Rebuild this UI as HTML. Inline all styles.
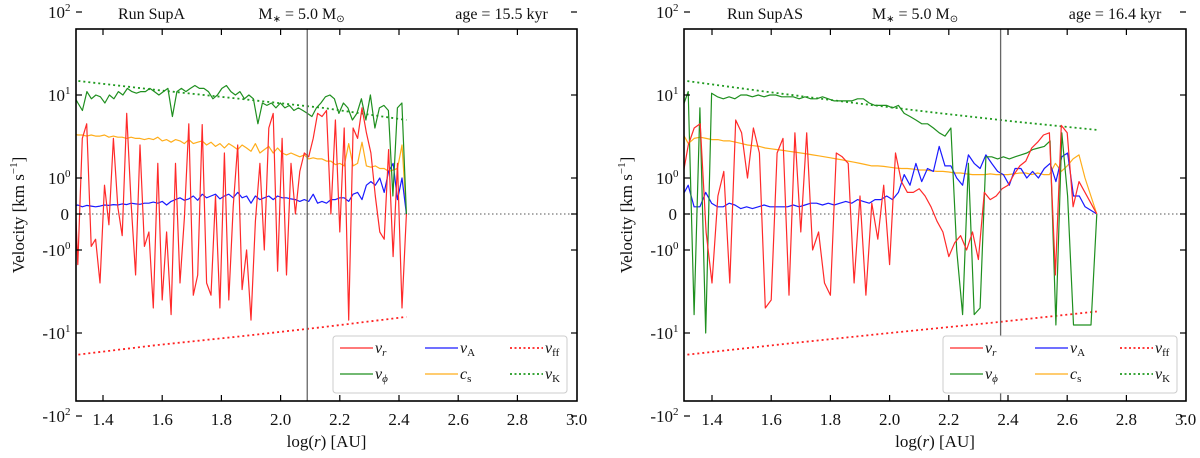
<!DOCTYPE html>
<html><head><meta charset="utf-8"><style>
html,body{margin:0;padding:0;background:#fff;}
svg{display:block;font-family:"Liberation Serif",serif;}
</style></head><body>
<svg id="fig" width="1200" height="458" viewBox="0 0 1200 458" xmlns="http://www.w3.org/2000/svg"></svg>
<script>
// ---------- data ----------
const xTicks = [1.4,1.6,1.8,2.0,2.2,2.4,2.6,2.8,3.0];
const xTickLabels = ["1.4","1.6","1.8","2.0","2.2","2.4","2.6","2.8","3.0"];
const yTickVals = [100,10,1,0,-1,-10,-100];
const yTickLabels = [["10","2"],["10","1"],["10","0"],["0",""],["-10","0"],["-10","1"],["-10","2"]];
const panelTitles = [["Run SupA","5.0","age = 15.5 kyr"],["Run SupAS","5.0","age = 16.4 kyr"]];
const rVline = [2.09, 2.375];
const xRangeA = [1.30, 2.425];
const xRangeB = [1.30, 2.70];

const vrA = [2,-1.5,3,4.5,-0.9,-0.7,-2.5,0.8,-0.3,3,0.2,-0.6,6,0.3,-2,2.5,-0.9,-0.5,-5,1.5,-4,-0.5,-6,1.5,-2.5,-0.1,4.5,-3.5,-2,4.4,-2.5,-3.5,0.5,-5,2,-4,0.2,2.5,-3,-1,-7,-0.2,1.5,-1,4,6,-1.8,3,-2,1.5,0,1.2,2,1.8,3,6,5.5,6.5,0,5,-0.5,4,-7,4,3,7,3.5,2,0.5,-0.5,-0.7,2.2,-1.2,1.5,-5,0];
const vphiA = [10,8,6.5,11,9,10,9.5,8,10,9,11,10,12,11,10.5,11,11,12,11,10,11,12,5.5,11,12,11,12,13,12,12,11,9,10,12,13,11,10,11,9,10,9,4.5,8,7.5,8,7,8,7,7.5,6.5,7,6.5,6,5.5,7,8,9.5,10,9,6,8,7,5,6,9,5,10,4,7,7.5,6.5,0.5,7,8,0];
const vAA = [0.22,0.25,0.2,0.24,0.22,0.2,0.22,0.25,0.24,0.26,0.25,0.28,0.26,0.3,0.28,0.27,0.3,0.3,0.33,0.3,0.35,0.25,0.35,0.4,0.45,0.38,0.42,0.5,0.38,0.55,0.45,0.5,0.55,0.42,0.5,0.55,0.45,0.6,0.45,0.5,0.3,0.5,0.4,0.45,0.5,0.4,0.5,0.45,0.45,0.42,0.4,0.35,0.4,0.35,0.55,0.3,0.35,0.3,0.4,0.4,0.45,0.45,0.35,0.55,0.6,0.4,0.8,0.9,0.8,1.0,0.6,1.2,1.5,0.4,1.0,0];
const csA = [3.4,3.3,3.3,3.2,3.3,3.2,3.2,3.3,3.1,3.2,3.1,3.1,3.0,3.1,3.0,3.0,2.9,3.0,2.9,3.1,2.8,2.9,2.7,2.9,2.8,2.6,2.9,2.6,2.7,2.8,2.5,2.7,2.4,2.6,2.3,2.6,2.4,2.2,2.5,2.3,2.1,2.6,2.0,2.2,2.4,2.0,2.3,2.0,1.9,2.0,1.9,1.8,1.9,1.7,1.75,1.7,1.7,1.6,1.6,1.45,1.5,1.4,2.6,1.4,1.5,2.7,1.4,1.35,1.4,1.3,1.3,1.2,1.25,1.3,2.5,0];
const vKA = [15,11.5,9,7,5];
const vffA = [-18.5,-14,-11,-8.5,-6.4];

const vrB = [1,2.5,4,4.5,-0.5,-2.5,0.5,1.2,-2.5,5,3.5,1.0,4,2,-5,-4,2,3,-3.5,3.5,-0.5,3.5,-1,-0.5,-2.5,-3.5,2,1.8,1.5,-2.5,0.5,-3.5,0.3,-0.7,0.8,-1.5,2,0.9,0.6,0.6,0.7,0.5,0.2,-0.2,-0.5,-1.2,-0.8,-0.6,-1.0,-0.5,-1.3,0.6,0.4,0.5,0.7,0.8,1.1,1.4,1.6,2.3,2.7,3.3,3.5,-2,4.3,3.5,0.2,0.9,0.6,0.3,0];
const vphiB = [7,11,-6,7,-10,10.5,9.5,9,9.5,9,10,10,9.5,10,9.5,10,10,9.5,9.5,9.5,9,9.5,9,9,9.5,9,8.5,8.5,8.5,8.5,9,9,8,7.5,7.5,7.5,7,7.5,6,5.5,5,4.5,4.5,4,3.5,3.2,4,-1,-6,1.5,-6,-5,1.8,1.8,1.7,1.8,1.7,1.8,1.9,2.0,2.2,2.3,2.4,2.8,-8,3.5,0.5,-8,-8,-8,-8,0];
const vAB = [0.5,0.8,0.2,0.2,0.6,0.3,0.2,0.2,0.3,0.25,0.15,0.2,0.15,0.2,0.25,0.2,0.2,0.2,0.2,0.25,0.2,0.25,0.3,0.3,0.25,0.3,0.25,0.3,0.35,0.3,0.4,0.35,0.3,0.4,0.4,0.5,0.4,0.6,1.1,0.8,1.5,0.9,1.3,1.2,2.4,1.4,1.4,1.0,0.8,1.9,1.5,1.3,1.9,1.5,1.2,1.1,0.8,1.3,1.3,1.0,1.2,1.0,1.3,1.5,0.9,1.8,2.0,0.5,0.5,0.2,0.1,0];
const csB = [3.5,2.6,3.0,3.1,3.0,2.9,2.9,2.8,2.8,2.7,2.6,2.5,2.45,2.4,2.3,2.25,2.2,2.15,2.1,2.05,2.0,1.95,1.9,1.85,1.8,1.75,1.7,1.65,1.6,1.55,1.5,1.45,1.4,1.4,1.38,1.35,1.32,1.3,1.3,1.28,1.25,1.25,1.22,1.2,1.2,1.18,1.15,1.15,1.12,1.1,1.1,1.1,1.12,1.1,1.1,1.1,1.12,1.15,1.15,1.1,1.15,1.1,1.1,1.5,1.2,1.4,1.7,1.9,1.0,0.5,0];
const vKB = [15,11,8.2,6.2,4.8,3.8];
const vffB = [-18.5,-13.5,-10,-7.5,-5.5];

// ---------- drawing ----------
const svg = document.getElementById('fig');
const NS = 'http://www.w3.org/2000/svg';
function mk(tag, attrs, parent){ const e=document.createElementNS(NS,tag); for(const k in attrs) e.setAttribute(k,attrs[k]); (parent||svg).appendChild(e); return e; }

const TOP=29, BOT=401, Y0=214;
function yPix(v){
  const a=Math.abs(v), s=Math.sign(v);
  if(a<=1) return Y0 - s*a*36;
  return Y0 - s*(36 + 83*Math.log10(a));
}

const panels = [
  {x0:76, x1:577, tick14:103, ranges:xRangeA, vr:vrA, vphi:vphiA, vA:vAA, cs:csA, vK:vKA, vff:vffA, vline:rVline[0], name:'panel-supa'},
  {x0:684, x1:1186, tick14:712, ranges:xRangeB, vr:vrB, vphi:vphiB, vA:vAB, cs:csB, vK:vKB, vff:vffB, vline:rVline[1], name:'panel-supas'}
];

panels.forEach((p,pi)=>{
  const g = mk('g',{});
  
  
  const xPix = v => p.tick14 + (v-1.4)*296;
  const t = panelTitles[pi];
  const tg = mk('text',{x:(p.x0+p.x1)/2-175+(pi?5:0), y:19,'font-size':16,'text-anchor':'middle',fill:'#111'},g);
  tg.textContent=t[0];
  
  
  const tm = mk('text',{x:(p.x0+p.x1)/2-25+(pi?5:0), y:19,'font-size':16,'text-anchor':'middle',fill:'#111'},g);
  tm.innerHTML='M<tspan font-size="10" dy="3">∗</tspan><tspan dy="-3"> = '+t[1]+' M</tspan><tspan font-size="10" dy="3">⊙</tspan>';
  
  
  const ta = mk('text',{x:(p.x0+p.x1)/2+175+(pi?5:0), y:19,'font-size':16,'text-anchor':'middle',fill:'#111'},g);
  ta.textContent=t[2];
  
  

  const cp = mk('clipPath',{id:'clip'+pi},g);
  mk('rect',{x:p.x0,y:TOP,width:p.x1-p.x0,height:BOT-TOP},cp);
  const plot = mk('g',{'clip-path':'url(#clip'+pi+')'},g);

  const zl = mk('line',{x1:p.x0,x2:p.x1,y1:yPix(0),y2:yPix(0),stroke:'#777','stroke-width':1.2,'stroke-dasharray':'1.5,2.5'},plot);
  
  

  function series(arr, color, dashed, nm, xr){
    const n=arr.length, step=(xr[1]-xr[0])/(n-1);
    const pts = arr.map((v,i)=> xPix(xr[0]+i*step).toFixed(1)+','+yPix(v).toFixed(1)).join(' ');
    const pl = mk('polyline',{points:pts,fill:'none',stroke:color,'stroke-width':dashed?1.8:1.2,'stroke-linejoin':'round'},plot);
    if(dashed) pl.setAttribute('stroke-dasharray','2,3');
    
    
  }
  series(p.vK,'#1f9a1f',true,'vk-line',p.ranges);
  series(p.vff,'#ff2020',true,'vff-line',p.ranges);
  series(p.cs,'#ffad1a',false,'cs-line',p.ranges);
  series(p.vA,'#1a1aff',false,'va-line',p.ranges);
  series(p.vphi,'#1f8f1f',false,'vphi-line',p.ranges);
  series(p.vr,'#ff2a2a',false,'vr-line',p.ranges);

  const vl = mk('line',{x1:xPix(p.vline),x2:xPix(p.vline),y1:TOP,y2:BOT,stroke:'#666','stroke-width':1.3},plot);
  
  

  const lg = mk('g',{},g);
  
  
  const lx = p.x0 + (pi?259:257);
  mk('rect',{x:lx,y:336,width:234,height:57,rx:3,fill:'#fff',stroke:'#ccc','stroke-width':1},lg);
  const items=[['v','r','#ff2a2a',0,0,0],['v','A','#1a1aff',1,0,0],['v','ff','#ff2020',2,0,1],['v','ϕ','#1f8f1f',0,1,0],['c','s','#ffad1a',1,1,0],['v','K','#1f9a1f',2,1,1]];
  items.forEach(it=>{
    const cx = lx + 7 + it[3]*85, cy = 348 + it[4]*26;
    const ln = mk('line',{x1:cx,x2:cx+33,y1:cy,y2:cy,stroke:it[2],'stroke-width':it[5]?1.8:1.3},lg);
    if(it[5]) ln.setAttribute('stroke-dasharray','2,2.5');
    
    
    const tx = mk('text',{x:cx+35,y:cy+5,'font-size':16,'font-style':'italic',fill:'#111'},lg);
    tx.innerHTML=it[0]+'<tspan font-size="11" dy="3" font-style="'+(it[1]==='r'||it[1]==='ϕ'?'italic':'normal')+'">'+it[1]+'</tspan>';
    
    
  });

  const fr = mk('rect',{x:p.x0,y:TOP,width:p.x1-p.x0,height:BOT-TOP,fill:'none',stroke:'#000','stroke-width':1.6},g);
  
  

  xTicks.forEach((v,i)=>{
    const x=xPix(v);
    if(x < p.x1-2){
      mk('line',{x1:x,x2:x,y1:BOT,y2:BOT-6,stroke:'#000','stroke-width':1.2},g);
      mk('line',{x1:x,x2:x,y1:TOP,y2:TOP+6,stroke:'#000','stroke-width':1.2},g);
    }
    const tl = mk('text',{x:x,y:425,'font-size':17,'text-anchor':'middle',fill:'#111'},g);
    tl.textContent=xTickLabels[i];
    
    
  });
  yTickVals.forEach((v,i)=>{
    const y=yPix(v);
    mk('line',{x1:p.x0,x2:p.x0+6,y1:y,y2:y,stroke:'#000','stroke-width':1.2},g);
    mk('line',{x1:p.x1,x2:p.x1-6,y1:y,y2:y,stroke:'#000','stroke-width':1.2},g);
    const L=yTickLabels[i];
    const tl = mk('text',{x:p.x0-(L[1]?11:7),y:y+6,'font-size':17,'text-anchor':'end',fill:'#111'},g);
    tl.textContent=L[0];
    
    
    if(L[1]){
      const sp = mk('text',{x:p.x0-11,y:y-1,'font-size':11,fill:'#111'},g);
      sp.textContent=L[1];
    }
  });
  const xl = mk('text',{x:(p.x0+p.x1)/2,y:447,'font-size':17,'text-anchor':'middle',fill:'#111'},g);
  xl.innerHTML='log(<tspan font-style="italic">r</tspan>) [AU]';
  
  
  const yx = p.x0-52, yy=215;
  const yl = mk('text',{x:yx,y:yy,'font-size':17,'text-anchor':'middle',fill:'#111',transform:'rotate(-90 '+yx+' '+yy+')'},g);
  yl.innerHTML='Velocity [km s<tspan font-size="11" dy="-7">−1</tspan><tspan dy="7">]</tspan>';
  
  
});
</script>
</body></html>
